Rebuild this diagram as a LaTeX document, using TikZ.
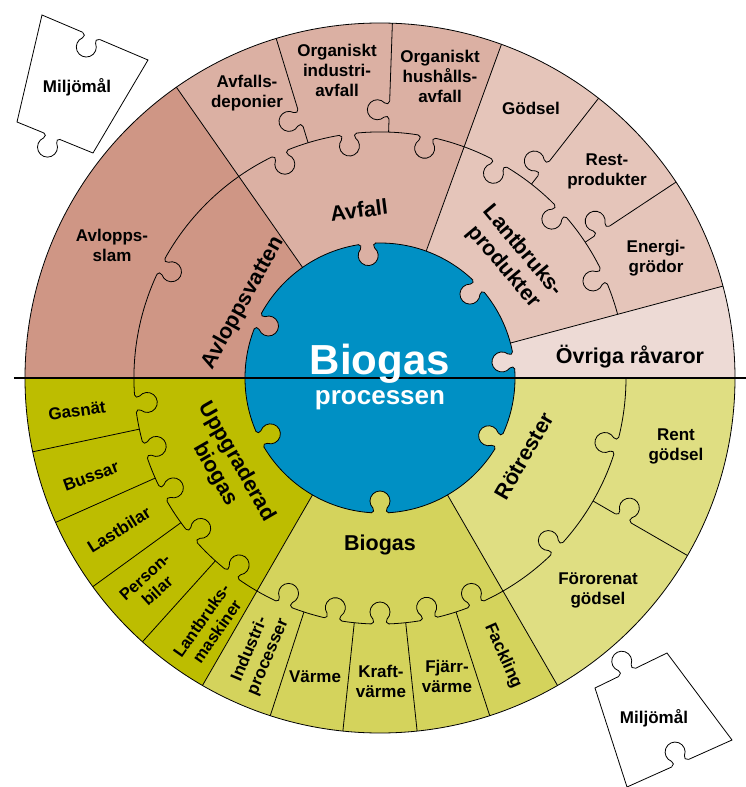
\documentclass[tikz,border=0pt]{standalone}
\usepackage{fontspec}
\setmainfont{Liberation Sans}
\definecolor{avloppc}{HTML}{CF9685}
\definecolor{avfallc}{HTML}{DBB0A3}
\definecolor{lantc}{HTML}{E5C5BA}
\definecolor{ovrigc}{HTML}{EDDAD5}
\definecolor{uppgc}{HTML}{BDBD00}
\definecolor{biogc}{HTML}{D4D35C}
\definecolor{rotc}{HTML}{DFDE82}
\definecolor{bluec}{HTML}{0090C4}
\usepackage{tikz}

\newcommand{\ringpart}[3]{\fill[#1] (0,0) -- (#2:355) arc[start angle=#2, end angle=#3, radius=355pt] -- cycle;}

\begin{document}
\begin{tikzpicture}[x=1pt, y=1pt, line width=0.8pt,
    pics/tab/.style = {code={
        \fill[fill=#1] (-9,-1.6) -- (-9,0) .. controls (-6.5,0) and (-5.3,3.2) .. (-7.07,4.93) arc[start angle=225, end angle=-45, radius=10pt] .. controls (5.3,3.2) and (6.5,0) .. (9,0) -- (9,-1.6) -- cycle;
        \draw (-9,0) .. controls (-6.5,0) and (-5.3,3.2) .. (-7.07,4.93) arc[start angle=225, end angle=-45, radius=10pt] .. controls (5.3,3.2) and (6.5,0) .. (9,0);}},
    lbl/.style = {font=\fontsize{17}{20}\selectfont\bfseries, align=center, inner sep=0pt},
    ring/.style = {font=\fontsize{21.5}{25}\selectfont\bfseries, align=center, inner sep=0pt},
    core/.style = {text=white, anchor=base, inner sep=0pt}]

\useasboundingbox (-380,-409) rectangle (366,378);

\ringpart{avloppc}{125}{180}
\ringpart{avfallc}{70}{125}
\ringpart{lantc}{15}{70}
\ringpart{ovrigc}{0}{15}
\ringpart{uppgc}{180}{240}
\ringpart{biogc}{240}{300}
\ringpart{rotc}{300}{360}
\fill[bluec] (0,0) circle[radius=135pt];

\draw (0,0) circle[radius=355pt];
\draw (0,0) circle[radius=135pt];
\draw (15:246) arc[start angle=15, end angle=360, radius=246pt];
\foreach \a in {125,70,15,240,300}
  \draw (\a:135) -- (\a:355);
\foreach \a in {107,88,52,33.5,192,204,216,228,252,264,276,288,330}
  \draw (\a:246) -- (\a:355);

% tabs into the core
\foreach \a/\c in {95.5/avfallc, 155/avloppc, 43/lantc, 7.5/ovrigc, 207/uppgc, 270/biogc, 332/rotc}
  \pic[rotate=\a+90] at (\a:135) {tab=\c};
% tabs into the middle ring
\foreach \a/\c in {153/avloppc, 114/avfallc, 97.5/avfallc, 79/avfallc, 61/lantc, 42.75/lantc, 24.5/lantc,
    186/uppgc, 197/uppgc, 208/uppgc, 220/uppgc, 233/uppgc, 247/biogc, 259/biogc, 270/biogc, 281.5/biogc, 293/biogc,
    316/rotc, 344/rotc}
  \pic[rotate=\a+90] at (\a:246) {tab=\c};
% tabs between outer pieces
\foreach \a/\r/\c in {107/272/avfallc, 88/268/avfallc, 52/266/lantc, 33.5/266/lantc, 330/281/rotc}
  \pic[rotate=\a] at (\a:\r) {tab=\c};

\draw[line width=2.2pt] (-366,0) -- (366,0);

% loose pieces
\draw (-338,363) -- (-232,318) -- (-287,225) -- (-363,256) -- cycle;
\pic[rotate=157] at (-289,342) {tab=white};
\pic[rotate=158] at (-328,242) {tab=white};
\draw (215,-310) -- (287,-275) -- (352,-362) -- (247,-409) -- cycle;
\pic[rotate=26] at (247,-294) {tab=white};
\pic[rotate=24] at (300,-385) {tab=white};

\node[core, font=\fontsize{42}{44}\selectfont\bfseries] (bio) at (0,3) {Biogas};
\node[core, font=\fontsize{26}{28}\selectfont\bfseries] (proc) at (0,-27) {processen};

\node[ring, rotate=61] (avlopp) at (-137,75) {Avloppsvatten};
\node[ring, rotate=7] (avfall) at (-21,168) {Avfall};
\node[ring, rotate=-50] (lantbruk) at (133,119) {Lantbruks-\\produkter};
\node[ring] (ovriga) at (250,21) {Övriga råvaror};
\node[ring, rotate=-60] (uppgr) at (-154,-90) {Uppgraderad\\biogas};
\node[ring] (biogas) at (0,-167) {Biogas};
\node[ring, rotate=60] (rotrest) at (144,-78) {Rötrester};

\node[lbl] (slam) at (-268,133) {Avlopps-\\slam};
\node[lbl] (deponier) at (-133,285) {Avfalls-\\deponier};
\node[lbl] (industri) at (-43,308) {Organiskt\\industri-\\avfall};
\node[lbl] (hushall) at (60,302) {Organiskt\\hushålls-\\avfall};
\node[lbl] (godsel) at (151,270) {Gödsel};
\node[lbl] (rest) at (227,207) {Rest-\\produkter};
\node[lbl] (energi) at (276,120) {Energi-\\grödor};

\node[lbl, rotate=8] (gasnat) at (-303,-33) {Gasnät};
\node[lbl, rotate=20] (bussar) at (-289,-98) {Bussar};
\node[lbl, rotate=32] (lastbil) at (-261,-152) {Lastbilar};
\node[lbl, rotate=42, font=\fontsize{16.5}{19}\selectfont\bfseries] (personbil) at (-229,-206) {Person-\\bilar};
\node[lbl, rotate=55, font=\fontsize{16.5}{19}\selectfont\bfseries] (maskin) at (-171,-248) {Lantbruks-\\maskiner};
\node[lbl, rotate=67] (indproc) at (-121,-275) {Industri-\\processer};
\node[lbl] (varme) at (-65,-299) {Värme};
\node[lbl] (kraft) at (1,-303) {Kraft-\\värme};
\node[lbl] (fjarr) at (67,-298) {Fjärr-\\värme};
\node[lbl, rotate=-66] (fackling) at (123,-278) {Fackling};
\node[lbl] (rent) at (296,-68) {Rent\\gödsel};
\node[lbl] (fororenat) at (218,-212) {Förorenat\\gödsel};

\node[lbl] (milj1) at (-303,291) {Miljömål};
\node[lbl] (milj2) at (274,-340) {Miljömål};

\end{tikzpicture}
\end{document}
